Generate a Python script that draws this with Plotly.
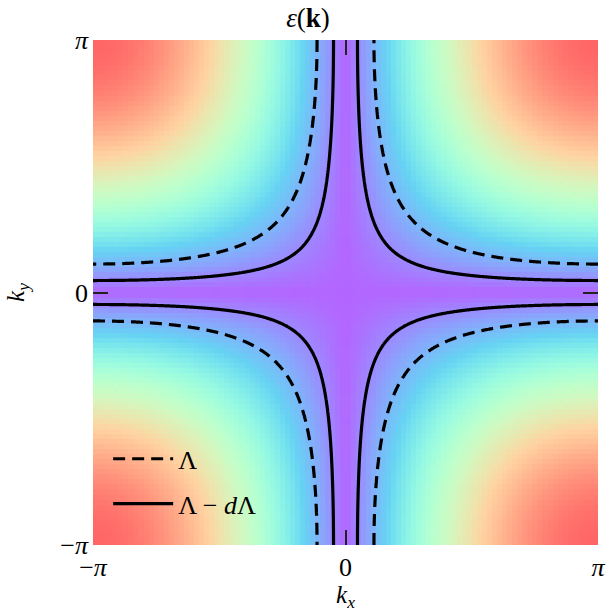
import numpy as np
import plotly.graph_objects as go

# grid of the dispersion, shown as a coarse colour map
n_cells = 100
n_fine = 401
# contour levels of eps(k) = |sin(kx/2) sin(ky/2)|
level_lambda = 0.176      # dashed, Lambda
level_lambda_dl = 0.0744  # solid, Lambda - dLambda
tick_vals = [-np.pi, 0, np.pi]
tick_text = ['−<i>π</i>', '0', '<i>π</i>']
legend_names = ['Λ', 'Λ − <i>d</i>Λ']


def eps(kx, ky):
    return np.abs(np.sin(kx / 2)[None, :] * np.sin(ky / 2)[:, None])


# matplotlib "rainbow" blended on white (alpha ~0.6)
def rainbow_scale(alpha=0.6, n=41):
    out = []
    for t in np.linspace(0, 1, n):
        r = min(1.0, abs(2 * t - 0.5))
        g = np.sin(np.pi * t)
        b = np.cos(np.pi * t / 2)
        rgb = [int(round(255 * (alpha * c + 1 - alpha))) for c in (r, g, b)]
        out.append([float(t), 'rgb(%d,%d,%d)' % tuple(rgb)])
    return out


d = 2 * np.pi / n_cells
k_c = np.linspace(-np.pi + d / 2, np.pi - d / 2, n_cells)
k_f = np.linspace(-np.pi, np.pi, n_fine)

fig = go.Figure()
fig.add_trace(go.Heatmap(x=k_c, y=k_c, z=eps(k_c, k_c), colorscale=rainbow_scale(),
                         zmin=0, zmax=1, showscale=False, zsmooth=False, hoverinfo='skip'))

for lev, dash in [(level_lambda, '12px,7px'), (level_lambda_dl, 'solid')]:
    fig.add_trace(go.Contour(x=k_f, y=k_f, z=eps(k_f, k_f), showscale=False, showlegend=False,
                             contours=dict(start=lev, end=lev, size=1, coloring='none'),
                             line=dict(color='black', width=3.2, dash=dash), hoverinfo='skip'))

# legend entries
for name, dash, grp in [(legend_names[0], '12px,7px', 'a'), (legend_names[1], 'solid', 'b')]:
    fig.add_trace(go.Scatter(x=[None], y=[None], mode='lines', name=name, legendgroup=grp,
                             line=dict(color='black', width=3.2, dash=dash)))

font_family = 'Liberation Serif'
axis_common = dict(range=[-np.pi, np.pi], tickvals=tick_vals, ticktext=tick_text,
                   ticks='inside', ticklen=15, tickwidth=1.6, tickcolor='#222',
                   mirror='ticks', showline=False, showgrid=False, zeroline=False,
                   automargin=False,
                   tickfont=dict(size=26, family=font_family, color='black'))

fig.update_layout(
    width=616, height=612,
    margin=dict(l=93, r=18, t=40, b=67),
    paper_bgcolor='white', plot_bgcolor='white',
    title=dict(text='<i>ε</i>(<b>k</b>)', x=0.5, xanchor='center', y=0.972, yanchor='middle',
               font=dict(size=27, family=font_family, color='black', weight='normal')),
    font=dict(family=font_family, color='black'),
    xaxis=dict(axis_common, ticklabelstandoff=4,
               title=dict(text='<i>k<sub>x</sub></i>', standoff=4,
                          font=dict(size=25, family=font_family))),
    yaxis=dict(axis_common, ticklabelstandoff=4,
               title=dict(text='<i>k<sub>y</sub></i>', standoff=28,
                          font=dict(size=25, family=font_family))),
    legend=dict(x=0.03, y=0.035, xanchor='left', yanchor='bottom', bgcolor='rgba(0,0,0,0)',
                itemwidth=60,
                font=dict(size=26, family=font_family), traceorder='grouped', tracegroupgap=8),
)

fig.write_html('out.html', config={'displayModeBar': False},
               post_script="document.body.style.margin='0';")
